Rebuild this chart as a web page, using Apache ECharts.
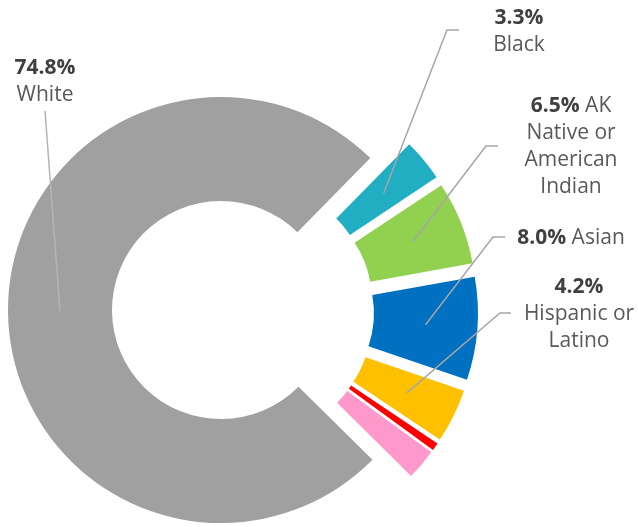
<!DOCTYPE html>
<html><head><meta charset="utf-8">
<script src="https://cdn.jsdelivr.net/npm/echarts@6/dist/echarts.min.js"></script>
<style>html,body{margin:0;padding:0;background:#fff}#c{width:638px;height:527px}</style>
</head><body><div id="c"></div>
<script>
// ---- data ----
const categories = ['Black', 'AK Native or American Indian', 'Asian', 'Hispanic or Latino', 'Native Hawaiian or Pacific Islander', 'Two or more races', 'White'];
const values = [3.3, 6.5, 8.0, 4.2, 0.6, 2.4, 74.8];
// label name text: leading space = same line as percent, leading newline = below it
const labelNames = ['\nBlack', ' AK\nNative or\nAmerican\nIndian', ' Asian', '\nHispanic or\nLatino', null, null, '\nWhite'];

// ---- style / layout ----
const colors = ['#21AEC2', '#92D050', '#0070C0', '#FFC000', '#FF0000', '#FF99CC', '#A0A0A0'];
const labelPos = [[519, 4.5], [571, 92.5], [571, 224.5], [579, 273.5], null, null, [45, 54.5]];
const elbows = [[[447, 30], [459, 30]], [[486, 146], [498, 146]], [[493, 237], [505, 237]], [[500, 313], [511, 313]], null, null, [[45, 111]]];
const lineColors = ['#a6a6a6', '#a6a6a6', '#a6a6a6', '#a6a6a6', null, null, '#b4b4b4'];
const startAngle = 45.5;
const mainCenter = [221, 310], mainRadius = [109, 213];
const smallCenter = [241, 311], smallRadius = [103, 207], explode = 30;
const FONT = '"Open Sans", sans-serif';

const total = values.reduce((a, b) => a + b, 0);
let acc = 0;
const mids = values.map(v => {
  const a0 = startAngle - acc / total * 360;
  acc += v;
  const a1 = startAngle - acc / total * 360;
  return (a0 + a1) / 2 * Math.PI / 180;
});
const isMainIdx = i => i === values.length - 1;
const centers = values.map((_, i) => isMainIdx(i) ? mainCenter
  : [smallCenter[0] + explode * Math.cos(mids[i]), smallCenter[1] - explode * Math.sin(mids[i])]);
const radii = values.map((_, i) => isMainIdx(i) ? mainRadius : smallRadius);
const anchors = values.map((_, i) => {
  const r = (radii[i][0] + radii[i][1]) / 2;
  return [centers[i][0] + r * Math.cos(mids[i]), centers[i][1] - r * Math.sin(mids[i])];
});

function labelText(i) {
  if (labelNames[i] == null) return '';
  const parts = labelNames[i].split('\n');
  let s = '{p|' + values[i].toFixed(1) + '%}';
  if (parts[0]) s += '{n|' + parts[0] + '}';
  for (let k = 1; k < parts.length; k++) s += '\n{n|' + parts[k] + '}';
  return s;
}

const common = {
  type: 'pie', startAngle: startAngle, clockwise: true, avoidLabelOverlap: false,
  silent: true, animation: false, emphasis: { disabled: true }
};

// one pie per slice (each slice has its own explode centre)
const series = values.map((_, i) => Object.assign({}, common, {
  z: 2,
  center: centers[i],
  radius: radii[i],
  label: { show: false },
  labelLine: { show: false },
  data: values.map((v, j) => ({
    name: categories[j], value: v,
    itemStyle: { color: j === i ? colors[j] : 'rgba(0,0,0,0)' }
  }))
}));

// transparent overlay pie carrying the labels and leader lines
series.push(Object.assign({}, common, {
  z: 5,
  center: mainCenter,
  radius: mainRadius,
  data: values.map((v, j) => ({
    name: categories[j], value: v,
    itemStyle: { color: 'rgba(0,0,0,0)' },
    label: { show: labelNames[j] != null },
    labelLine: { show: labelNames[j] != null, lineStyle: { color: lineColors[j] || '#a6a6a6', width: 1.5 } }
  })),
  label: {
    position: 'outside',
    formatter: p => labelText(p.dataIndex),
    lineHeight: 27,
    rich: {
      p: { fontFamily: FONT, fontSize: 21, fontWeight: 'bold', color: '#404040', lineHeight: 27 },
      n: { fontFamily: FONT, fontSize: 21, color: '#595959', lineHeight: 27 }
    }
  },
  labelLine: { show: true, length: 5, length2: 5, smooth: false },
  labelLayout: function (params) {
    const i = params.dataIndex;
    if (labelNames[i] == null) return {};
    return {
      x: labelPos[i][0], y: labelPos[i][1], align: 'center', verticalAlign: 'top',
      labelLinePoints: [anchors[i]].concat(elbows[i])
    };
  }
}));

const chart = echarts.init(document.getElementById('c'), null, { renderer: 'canvas' });
chart.setOption({ backgroundColor: '#fff', animation: false, series: series });
</script>
</body></html>
